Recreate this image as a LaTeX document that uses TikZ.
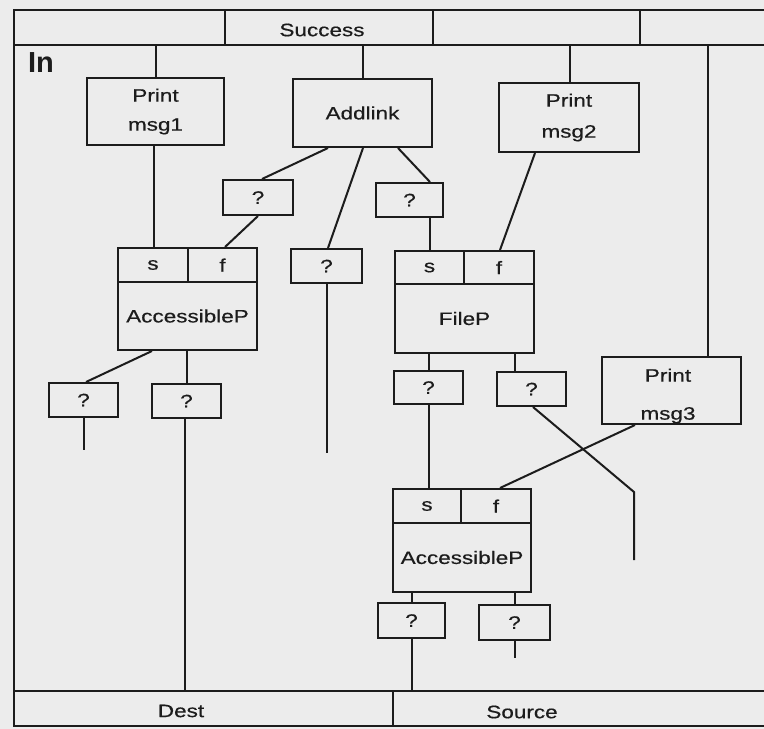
\documentclass[tikz,border=0pt]{standalone}
\usepackage{fontspec}
\setmainfont{Liberation Sans}
\newfontfamily\wsans[FakeStretch=1.25,FakeBold=0.5]{Liberation Sans}
\definecolor{paper}{RGB}{236,236,236}
\definecolor{ink}{RGB}{28,28,28}
\begin{document}
\begin{tikzpicture}[x=1pt,y=-1pt,
  box/.style={draw=ink, line width=2pt, inner sep=0pt, text=ink,
    font=\wsans\fontsize{18}{22}\selectfont, align=center},
  lbl/.style={inner sep=0pt, text=ink, font=\wsans\fontsize{18}{22}\selectfont, align=center},
  wire/.style={line width=2pt, draw=ink}]
\fill[paper] (0,0) rectangle (764,729);
\useasboundingbox (0,0) rectangle (764,729);

% frame
\draw[wire] (764,10) -- (14,10) -- (14,726) -- (764,726);
\draw[wire] (14,45) -- (764,45);
\draw[wire] (14,691) -- (764,691);
\draw[wire] (225,10) -- (225,45);
\draw[wire] (433,10) -- (433,45);
\draw[wire] (640,10) -- (640,45);
\draw[wire] (393,691) -- (393,726);

\node[lbl] (success) at (322,30) {Success};
\node[lbl] (dest) at (181,711) {Dest};
\node[lbl] (source) at (522,712) {Source};
\node[inner sep=0pt, text=ink, font=\bfseries\fontsize{29}{30}\selectfont] (inlbl) at (41,63) {In};

% header taps
\coordinate (h1) at (155.5,45);
\coordinate (h2) at (363,45);
\coordinate (h3) at (570,45);
\coordinate (h4) at (708,45);

% boxes
\node[box, minimum width=137pt, minimum height=67pt] (pm1) at (155.5,111.5) {Print\\[7pt]msg1};
\node[box, minimum width=139pt, minimum height=68pt] (addlink) at (362.5,113) {Addlink};
\node[box, minimum width=140pt, minimum height=69pt] (pm2) at (569,117.5) {Print\\[9pt]msg2};

\node[box, minimum width=70pt, minimum height=35pt] (qA) at (258,197.5) {?};
\node[box, minimum width=67pt, minimum height=34pt] (qB) at (409.5,200) {?};
\node[box, minimum width=71pt, minimum height=34pt] (qC) at (326.5,266) {?};

\node[box, minimum width=70pt, minimum height=34pt] (ap1s) at (153,265) {s};
\node[box, minimum width=69pt, minimum height=34pt] (ap1f) at (222.5,265) {f};
\node[box, minimum width=139pt, minimum height=68pt] (ap1) at (187.5,316) {AccessibleP};

\node[box, minimum width=69pt, minimum height=33pt] (fps) at (429.5,267.5) {s};
\node[box, minimum width=70pt, minimum height=33pt] (fpf) at (499,267.5) {f};
\node[box, minimum width=139pt, minimum height=69pt] (fp) at (464.5,318.5) {FileP};

\node[box, minimum width=69pt, minimum height=34pt] (qD) at (83.5,400) {?};
\node[box, minimum width=69pt, minimum height=34pt] (qE) at (186.5,401) {?};
\node[box, minimum width=69pt, minimum height=33pt] (qF) at (428.5,387.5) {?};
\node[box, minimum width=69pt, minimum height=34pt] (qG) at (531.5,389) {?};

\node[box, minimum width=139pt, minimum height=67pt] (pm3) at (671.5,390.5) {};
\node[lbl] (pm3t) at (668,396) {Print\\[16pt]msg3};

\node[box, minimum width=68pt, minimum height=34pt] (a2s) at (427,506) {s};
\node[box, minimum width=70pt, minimum height=34pt] (a2f) at (496,506) {f};
\node[box, minimum width=138pt, minimum height=69pt] (ap2) at (462,557.5) {AccessibleP};

\node[box, minimum width=67pt, minimum height=35pt] (qH) at (411.5,620.5) {?};
\node[box, minimum width=71pt, minimum height=35pt] (qI) at (514.5,622.5) {?};

% free ends
\coordinate (cEnd) at (326.5,453);
\coordinate (dEnd) at (83.5,450);
\coordinate (eEnd) at (185,691);
\coordinate (gBend) at (634,492);
\coordinate (gEnd) at (634,560);
\coordinate (hEnd) at (411.5,691);
\coordinate (iEnd) at (514.5,658);

% connectors
\draw[wire] (h1) -- (h1 |- pm1.north);
\draw[wire] (h2) -- (h2 |- addlink.north);
\draw[wire] (h3) -- (h3 |- pm2.north);
\draw[wire] (h4) -- (h4 |- pm3.north);

\draw[wire] ([xshift=-1.5pt]pm1.south) -- ([xshift=-1.5pt]pm1.south |- ap1s.north);
\draw[wire] ([xshift=-34.5pt]addlink.south) -- ([xshift=4pt]qA.north);
\draw[wire] ([xshift=0.5pt]addlink.south) -- ([xshift=1.5pt]qC.north);
\draw[wire] ([xshift=35.5pt]addlink.south) -- ([xshift=20.5pt]qB.north);
\draw[wire] (qA.south) -- ([xshift=2.5pt]ap1f.north);
\draw[wire] ([xshift=20pt]qB.south) -- ([xshift=20pt]qB.south |- fps.north);
\draw[wire] ([xshift=-34pt]pm2.south) -- ([xshift=1pt]fpf.north);
\draw[wire] (qC.south) -- (cEnd);

\draw[wire] ([xshift=-35.5pt]ap1.south) -- ([xshift=2.5pt]qD.north);
\draw[wire] (qE.north |- ap1.south) -- (qE.north);
\draw[wire] (qD.south) -- (dEnd);
\draw[wire] ([xshift=-1.5pt]qE.south) -- (eEnd);

\draw[wire] (qF.north |- fp.south) -- (qF.north);
\draw[wire] ([xshift=-16.5pt]qG.north |- fp.south) -- ([xshift=-16.5pt]qG.north);
\draw[wire] (qF.south) -- (qF.south |- a2s.north);
\draw[wire] ([xshift=1.5pt]qG.south) -- (gBend) -- (gEnd);
\draw[wire] ([xshift=-36.5pt]pm3.south) -- ([xshift=4pt]a2f.north);

\draw[wire] (qH.north |- ap2.south) -- (qH.north);
\draw[wire] (qI.north |- ap2.south) -- (qI.north);
\draw[wire] (qH.south) -- (hEnd);
\draw[wire] (qI.south) -- (iEnd);
\end{tikzpicture}
\end{document}
